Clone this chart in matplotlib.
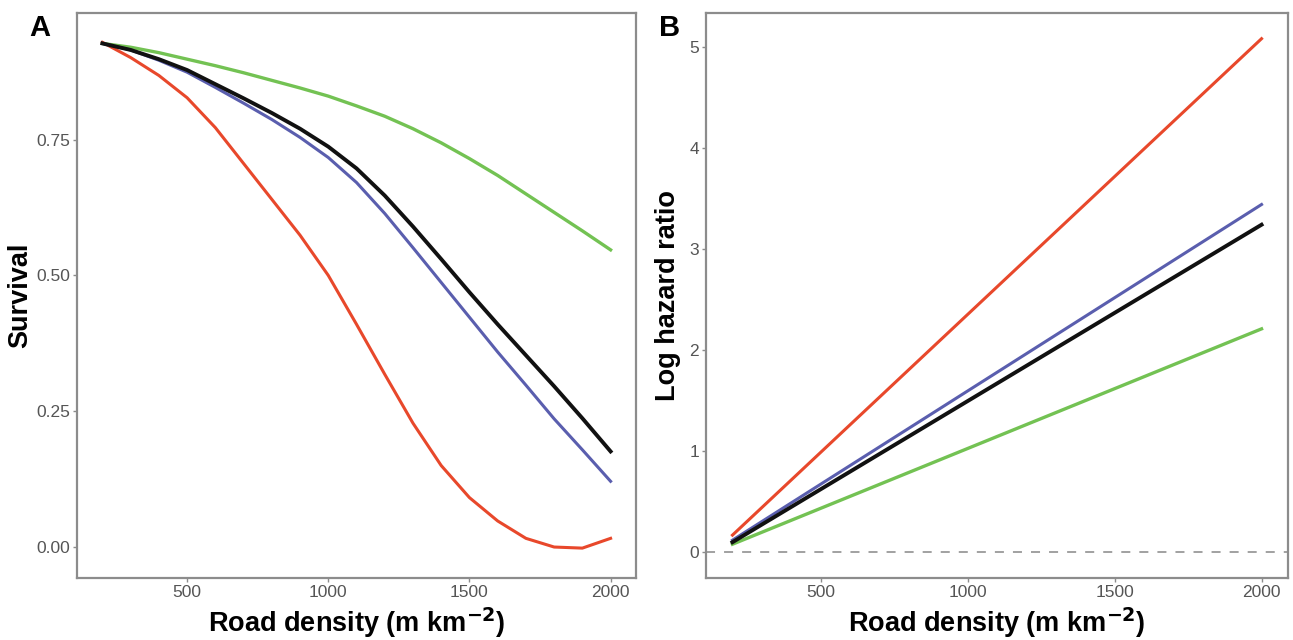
import numpy as np
import matplotlib.pyplot as plt

plt.rcParams['font.family'] = ['Liberation Sans', 'DejaVu Sans']

# road density (m km-2)
densidad = [200, 300, 400, 500, 600, 700, 800, 900, 1000, 1100,
            1200, 1300, 1400, 1500, 1600, 1700, 1800, 1900, 2000]

# panel A: survival curves
surv_rojo = [0.929, 0.901, 0.868, 0.827, 0.772, 0.706, 0.640, 0.574, 0.500, 0.410,
             0.318, 0.228, 0.150, 0.091, 0.048, 0.016, 0.000, -0.002, 0.016]
surv_azul = [0.927, 0.915, 0.896, 0.874, 0.846, 0.817, 0.787, 0.754, 0.717, 0.671,
             0.614, 0.551, 0.487, 0.423, 0.359, 0.298, 0.236, 0.179, 0.121]
surv_negro = [0.927, 0.915, 0.898, 0.878, 0.852, 0.826, 0.799, 0.770, 0.737, 0.697,
              0.647, 0.590, 0.530, 0.469, 0.410, 0.353, 0.296, 0.237, 0.176]
surv_verde = [0.927, 0.920, 0.910, 0.898, 0.886, 0.873, 0.859, 0.845, 0.830, 0.812,
              0.793, 0.770, 0.744, 0.715, 0.684, 0.650, 0.616, 0.582, 0.547]

# panel B: log hazard ratio (straight lines)
dens_b = [200, 2000]
lhr_rojo = [0.17, 5.08]
lhr_azul = [0.12, 3.44]
lhr_negro = [0.10, 3.24]
lhr_verde = [0.08, 2.21]

ROJO = '#e8482b'
AZUL = '#5a5eae'
VERDE = '#73c253'
NEGRO = '#111111'
GRIS = '#8c8c8c'


def estilo(ax):
    """Marco gris y ticks estilo ggplot classic"""
    for s in ax.spines.values():
        s.set_color(GRIS)
        s.set_linewidth(1.6)
    ax.tick_params(direction='out', length=3, width=1, color=GRIS,
                   labelcolor='#555555', labelsize=12.5, pad=2)
    ax.set_xticks([500, 1000, 1500, 2000])
    ax.set_xlim(110, 2090)
    ax.set_xlabel("Road density (m km$^{\\mathbf{-2}}$)", fontsize=19.5,
                  fontweight='bold', labelpad=4)


fig = plt.figure(figsize=(12.93, 6.4), dpi=100)
axA = fig.add_axes([77 / 1293, 62 / 640, 559 / 1293, 565 / 640])
axB = fig.add_axes([706 / 1293, 62 / 640, 582 / 1293, 565 / 640])

# A
axA.plot(densidad, surv_verde, color=VERDE, lw=2.4, solid_joinstyle='round')
axA.plot(densidad, surv_rojo, color=ROJO, lw=2.2, solid_joinstyle='round')
axA.plot(densidad, surv_azul, color=AZUL, lw=2.2, solid_joinstyle='round')
axA.plot(densidad, surv_negro, color=NEGRO, lw=2.8, solid_joinstyle='round')
axA.set_ylim(-0.057, 0.983)
axA.set_yticks([0, 0.25, 0.5, 0.75])
axA.set_yticklabels(['0.00', '0.25', '0.50', '0.75'])
axA.set_ylabel("Survival", fontsize=19.5, fontweight='bold', labelpad=2)
estilo(axA)

# B
axB.axhline(0, color='#9a9a9a', lw=1.3, ls=(0, (5, 5)))
axB.plot(dens_b, lhr_verde, color=VERDE, lw=2.4)
axB.plot(dens_b, lhr_rojo, color=ROJO, lw=2.2)
axB.plot(dens_b, lhr_azul, color=AZUL, lw=2.2)
axB.plot(dens_b, lhr_negro, color=NEGRO, lw=2.8)
axB.set_ylim(-0.254, 5.334)
axB.set_yticks([0, 1, 2, 3, 4, 5])
axB.set_ylabel("Log hazard ratio", fontsize=19.5, fontweight='bold', labelpad=6)
estilo(axB)

fig.text(40 / 1293, 1 - 28 / 640, "A", fontsize=21, fontweight='bold', ha='center', va='center')
fig.text(670 / 1293, 1 - 28 / 640, "B", fontsize=21, fontweight='bold', ha='center', va='center')

plt.savefig('out.png', dpi=100)
